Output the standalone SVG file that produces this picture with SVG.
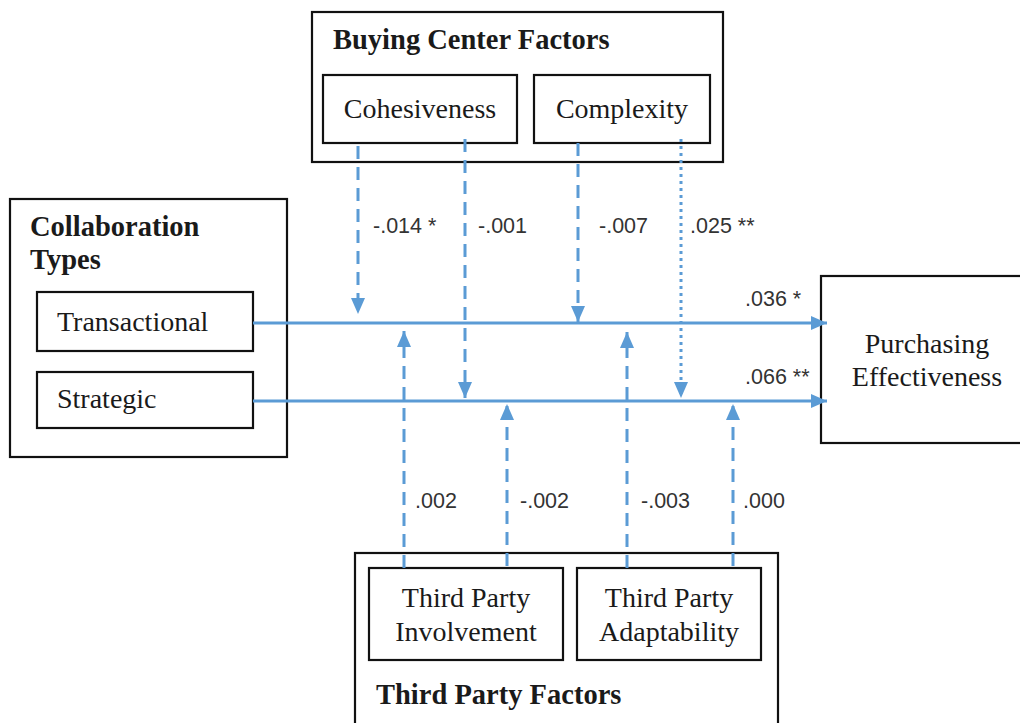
<svg xmlns="http://www.w3.org/2000/svg" width="1020" height="723" viewBox="0 0 1020 723">
<defs>
<style>
.box{fill:#fff;stroke:#111;stroke-width:2.2}
.t{font-family:"Liberation Serif","Times New Roman",serif;font-size:28px;fill:#1a1a1a}
.b{font-family:"Liberation Serif","Times New Roman",serif;font-size:28.5px;font-weight:bold;fill:#1a1a1a}
.n{font-family:"Liberation Sans",Arial,sans-serif;font-size:21.5px;fill:#333}
.c{fill:none;stroke:#5B9BD5;stroke-width:3}
.d{stroke-dasharray:13 8}
.o{stroke-dasharray:3 4}
</style>
<marker id="ah" viewBox="0 0 16 14" refX="16" refY="7" markerWidth="16" markerHeight="14" markerUnits="userSpaceOnUse" orient="auto">
<path d="M0,0 L16,7 L0,14 z" fill="#5B9BD5"/>
</marker>
</defs>
<rect width="1020" height="723" fill="#fff"/>

<g id="buying-center">
<rect class="box" x="312" y="12" width="411" height="150"/>
<text class="b" x="333" y="49">Buying Center Factors</text>
</g>
<g id="cohesiveness">
<rect class="box" x="323" y="75" width="194" height="68"/>
<text class="t" x="420" y="118" text-anchor="middle">Cohesiveness</text>
</g>
<g id="complexity">
<rect class="box" x="534" y="75" width="176" height="68"/>
<text class="t" x="622" y="118" text-anchor="middle">Complexity</text>
</g>

<g id="collaboration-types">
<rect class="box" x="10" y="199" width="277" height="258"/>
<text class="b" x="30" y="236">Collaboration</text>
<text class="b" x="30" y="269">Types</text>
</g>
<g id="transactional">
<rect class="box" x="37" y="292" width="216" height="59"/>
<text class="t" x="57" y="331">Transactional</text>
</g>
<g id="strategic">
<rect class="box" x="37" y="372" width="216" height="56"/>
<text class="t" x="57" y="408">Strategic</text>
</g>

<g id="purchasing-effectiveness">
<rect class="box" x="821" y="276" width="210" height="167"/>
<text class="t" x="927" y="353" text-anchor="middle">Purchasing</text>
<text class="t" x="927" y="386" text-anchor="middle">Effectiveness</text>
</g>

<g id="third-party">
<rect class="box" x="355" y="553" width="423" height="190"/>
<text class="b" x="376" y="704">Third Party Factors</text>
</g>
<g id="tp-involvement">
<rect class="box" x="369" y="568" width="194" height="92"/>
<text class="t" x="466" y="607" text-anchor="middle">Third Party</text>
<text class="t" x="466" y="641" text-anchor="middle">Involvement</text>
</g>
<g id="tp-adaptability">
<rect class="box" x="577" y="568" width="184" height="92"/>
<text class="t" x="669" y="607" text-anchor="middle">Third Party</text>
<text class="t" x="669" y="641" text-anchor="middle">Adaptability</text>
</g>

<g id="connectors">
<line class="c" x1="253" y1="323" x2="827" y2="323" marker-end="url(#ah)"/>
<line class="c" x1="253" y1="401" x2="827" y2="401" marker-end="url(#ah)"/>
<line class="c d" x1="358" y1="146" x2="358" y2="314" marker-end="url(#ah)"/>
<line class="c d" x1="465" y1="139" x2="465" y2="398" marker-end="url(#ah)"/>
<line class="c d" x1="578" y1="143" x2="578" y2="322" marker-end="url(#ah)"/>
<line class="c o" x1="681" y1="139" x2="681" y2="398" marker-end="url(#ah)"/>
<line class="c d" x1="404" y1="568" x2="404" y2="331" marker-end="url(#ah)"/>
<line class="c d" x1="507" y1="566" x2="507" y2="404" marker-end="url(#ah)"/>
<line class="c d" x1="627" y1="568" x2="627" y2="332" marker-end="url(#ah)"/>
<line class="c d" x1="733" y1="566" x2="733" y2="404" marker-end="url(#ah)"/>
</g>

<g id="labels">
<text class="n" x="745" y="306">.036 *</text>
<text class="n" x="745" y="384">.066 **</text>
<text class="n" x="373" y="233">-.014 *</text>
<text class="n" x="478" y="233">-.001</text>
<text class="n" x="599" y="233">-.007</text>
<text class="n" x="690" y="233">.025 **</text>
<text class="n" x="415" y="508">.002</text>
<text class="n" x="520" y="508">-.002</text>
<text class="n" x="641" y="508">-.003</text>
<text class="n" x="743" y="508">.000</text>
</g>
</svg>
